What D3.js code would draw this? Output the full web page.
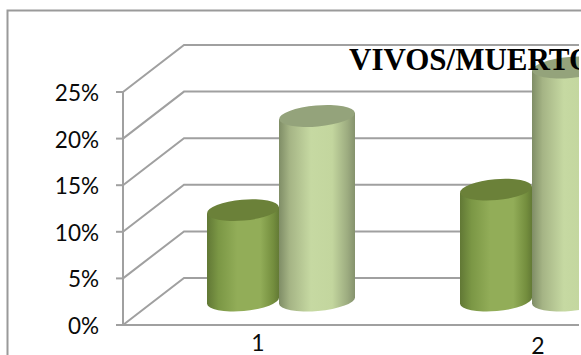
<!DOCTYPE html>
<html>
<head>
<meta charset="utf-8">
<script src="https://cdn.jsdelivr.net/npm/d3@7/dist/d3.min.js"></script>
<style>
  html, body { margin: 0; padding: 0; background: #fff; }
  svg { display: block; }
</style>
</head>
<body>
<svg id="chart" width="581" height="355"></svg>
<script>
// Survival percentages per group, two series of 3D cylinders
const categories = ["1", "2"];
const seriesA = [9.7, 11.9];
const seriesB = [19.8, 25.0];
const yTicks = [0, 5, 10, 15, 20, 25];
const chartTitle = "VIVOS/MUERTOS";

const svg = d3.select("#chart");
const defs = svg.append("defs");

const W = 581, H = 355;
const rightEdge = 579;
const depthX = 61, depthY = -47;      // offset from the front floor edge to the back wall
const midDepth = 0.5;

const y = d3.scaleLinear().domain([0, 25]).range([325, 92]);
const x = d3.scaleBand().domain(categories).range([152.5, 658.5]);
const widthA = 72, widthB = 76;

defs.append("clipPath").attr("id", "plot")
  .append("rect").attr("x", 0).attr("y", 0).attr("width", rightEdge).attr("height", H);

function cylinderGradient(id, stops) {
  const g = defs.append("linearGradient").attr("id", id)
    .attr("x1", "0%").attr("x2", "100%").attr("y1", "0%").attr("y2", "0%");
  stops.forEach(([o, c]) => g.append("stop").attr("offset", o).attr("stop-color", c));
}
cylinderGradient("bodyA", [["0", "#617835"], ["0.16", "#7b9745"], ["0.42", "#92ad58"], ["0.74", "#92ad58"], ["0.92", "#748e3e"], ["1", "#637a35"]]);
cylinderGradient("bodyB", [["0", "#7f8d66"], ["0.14", "#a5b485"], ["0.42", "#c6d9a2"], ["0.7", "#c3d69e"], ["0.9", "#9dac80"], ["1", "#85926d"]]);

// Chart frame, open on the right and bottom sides where the image ends
svg.append("path")
  .attr("d", `M7.5,${H} V10.5 H${W}`)
  .attr("fill", "none").attr("stroke", "#9a9a9a").attr("stroke-width", 2);

const wallColor = "#a0a0a0";
const grid = svg.append("g").attr("fill", "none").attr("stroke", wallColor).attr("stroke-width", 2);
yTicks.forEach(t => {
  const py = y(t);
  grid.append("path").attr("d", `M123,${py} L${123 + depthX},${py + depthY} H${rightEdge}`);
  grid.append("path").attr("d", `M116,${py} H123`);
});
grid.append("path").attr("d", `M123,${y(25)} V${y(0)} H${rightEdge}`);

// Tilted cylinder built from the value scale
function drawCylinder(parent, cx, width, value, body, topFill) {
  const rx = width / 2, ry = 10.5, rot = -5;
  const lift = depthY * midDepth - 1;
  const yBase = y(0) + lift, yTop = y(value) + lift;
  const tilt = Math.tan(rot * Math.PI / 180) * rx;
  const xl = cx - rx, xr = cx + rx;
  parent.append("path")
    .attr("d", `M${xl},${yTop - tilt} L${xl},${yBase - tilt} A${rx},${ry} ${rot} 0 0 ${xr},${yBase + tilt} L${xr},${yTop + tilt} Z`)
    .attr("fill", `url(#${body})`);
  parent.append("ellipse")
    .attr("rx", rx).attr("ry", ry)
    .attr("transform", `translate(${cx},${yTop}) rotate(${rot})`)
    .attr("fill", topFill);
}

const bars = svg.append("g").attr("clip-path", "url(#plot)");
categories.forEach((c, i) => {
  const center = x(c) + x.bandwidth() / 2;
  drawCylinder(bars, center - widthA / 2, widthA, seriesA[i], "bodyA", "#6b8139");
  drawCylinder(bars, center + widthB / 2, widthB, seriesB[i], "bodyB", "#94a37b");
});

// Axis labels
const labelFont = "Lato, 'Open Sans', sans-serif";
svg.append("g").selectAll("text").data(yTicks).join("text")
  .attr("x", 99).attr("y", d => y(d) + 9)
  .attr("text-anchor", "end")
  .attr("font-family", labelFont).attr("font-size", 22.5).attr("fill", "#0a0a0a")
  .text(d => d + "%");

svg.append("g").selectAll("text").data(categories).join("text")
  .attr("x", (d, i) => i === 0 ? 258 : 538)
  .attr("y", (d, i) => i === 0 ? 351 : 354)
  .attr("text-anchor", "middle")
  .attr("font-family", labelFont).attr("font-size", 23).attr("fill", "#0a0a0a")
  .text(d => d);

// Title runs past the plot and is cut at its right edge
svg.append("g").attr("clip-path", "url(#plot)").append("text")
  .attr("x", 349).attr("y", 70)
  .attr("font-family", "'Liberation Serif', serif").attr("font-weight", "bold")
  .attr("font-size", 31).attr("fill", "#000")
  .text(chartTitle);
</script>
</body>
</html>
